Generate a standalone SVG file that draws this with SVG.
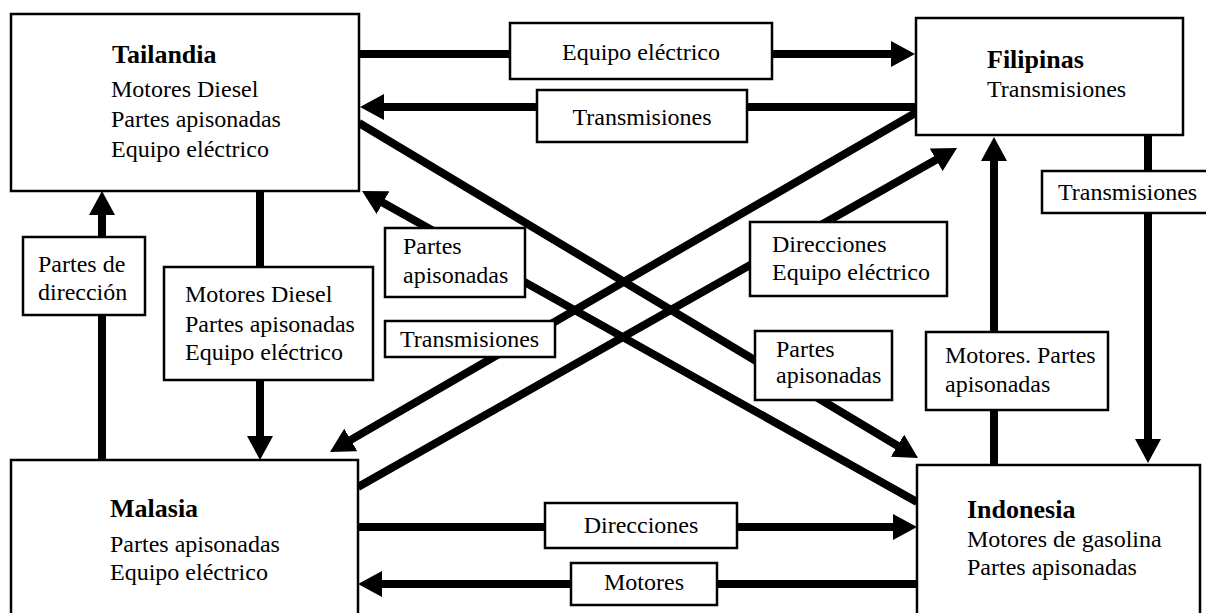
<svg xmlns="http://www.w3.org/2000/svg" width="1206" height="613" viewBox="0 0 1206 613">
<style>
.node{fill:#fff;stroke:#000;stroke-width:2.5}
.lbl{fill:#fff;stroke:#000;stroke-width:2.5}
.t{font-family:"Liberation Serif","Times New Roman",serif;font-size:24px;fill:#000}
.h{font-family:"Liberation Serif","Times New Roman",serif;font-size:26px;font-weight:bold;fill:#000}
.c{text-anchor:middle}
.ln{stroke:#000;stroke-width:8;fill:none;marker-end:url(#ah)}
</style>
<defs>
<marker id="ah" viewBox="0 -13 24 26" markerWidth="24" markerHeight="26" refX="1" refY="0" orient="auto" markerUnits="userSpaceOnUse">
<path d="M0,-13 L24,0 L0,13 Z" fill="#000"/>
</marker>
</defs>
<rect width="1206" height="613" fill="#fff"/>
<g id="connectors">
<line class="ln" x1="359" y1="54" x2="892" y2="54"/>
<line class="ln" x1="916" y1="107" x2="383" y2="107"/>
<line class="ln" x1="359" y1="123" x2="898.3" y2="446.2"/>
<line class="ln" x1="917" y1="502" x2="382.1" y2="202.2"/>
<line class="ln" x1="917" y1="112" x2="349.9" y2="440.4"/>
<line class="ln" x1="358" y1="487" x2="937" y2="159.3"/>
<line class="ln" x1="260" y1="191" x2="260" y2="437"/>
<line class="ln" x1="102" y1="460" x2="102" y2="214"/>
<line class="ln" x1="358" y1="527" x2="894" y2="527"/>
<line class="ln" x1="917" y1="584" x2="381" y2="584"/>
<line class="ln" x1="1148" y1="135" x2="1148" y2="440"/>
<line class="ln" x1="994" y1="465" x2="994" y2="160"/>
</g>
<g id="labels">
<g id="lbl-equipo-top"><rect class="lbl" x="510" y="23" width="262" height="56"/><text class="t c" x="641" y="60">Equipo eléctrico</text></g>
<g id="lbl-trans-top"><rect class="lbl" x="537" y="90" width="210" height="52"/><text class="t c" x="642" y="125">Transmisiones</text></g>
<g id="lbl-trans-right"><rect class="lbl" x="1042" y="171" width="170" height="42"/><text class="t" x="1058" y="200">Transmisiones</text></g>
<g id="lbl-partes-dir"><rect class="lbl" x="23" y="237" width="122" height="78"/><text class="t" x="38" y="272">Partes de</text><text class="t" x="38" y="300">dirección</text></g>
<g id="lbl-motores-diesel"><rect class="lbl" x="164" y="267" width="209" height="113"/><text class="t" x="185" y="302">Motores Diesel</text><text class="t" x="185" y="332">Partes apisonadas</text><text class="t" x="185" y="360">Equipo eléctrico</text></g>
<g id="lbl-partes-upper"><rect class="lbl" x="385" y="228" width="140" height="69"/><text class="t" x="403" y="254">Partes</text><text class="t" x="403" y="283">apisonadas</text></g>
<g id="lbl-trans-mid"><rect class="lbl" x="385" y="321" width="170" height="36"/><text class="t" x="400" y="347">Transmisiones</text></g>
<g id="lbl-direcciones-equipo"><rect class="lbl" x="750" y="222" width="197" height="74"/><text class="t" x="772" y="252">Direcciones</text><text class="t" x="772" y="280">Equipo eléctrico</text></g>
<g id="lbl-partes-lower"><rect class="lbl" x="755" y="331" width="137" height="69"/><text class="t" x="776" y="357">Partes</text><text class="t" x="776" y="383">apisonadas</text></g>
<g id="lbl-motores-partes"><rect class="lbl" x="926" y="332" width="182" height="78"/><text class="t" x="945" y="363">Motores. Partes</text><text class="t" x="945" y="392">apisonadas</text></g>
<g id="lbl-direcciones"><rect class="lbl" x="545" y="503" width="192" height="45"/><text class="t c" x="641" y="533">Direcciones</text></g>
<g id="lbl-motores"><rect class="lbl" x="571" y="563" width="146" height="42"/><text class="t c" x="644" y="590">Motores</text></g>
</g>
<g id="tailandia"><rect class="node" x="11" y="14" width="348" height="177"/><text class="h" x="112" y="63">Tailandia</text><text class="t" x="111" y="97">Motores Diesel</text><text class="t" x="111" y="127">Partes apisonadas</text><text class="t" x="111" y="157">Equipo eléctrico</text></g>
<g id="filipinas"><rect class="node" x="916" y="18" width="267" height="117"/><text class="h" x="987" y="68">Filipinas</text><text class="t" x="987" y="97">Transmisiones</text></g>
<g id="malasia"><rect class="node" x="11" y="460" width="347" height="170"/><text class="h" x="110" y="517">Malasia</text><text class="t" x="110" y="552">Partes apisonadas</text><text class="t" x="110" y="580">Equipo eléctrico</text></g>
<g id="indonesia"><rect class="node" x="917" y="465" width="283" height="170"/><text class="h" x="967" y="518">Indonesia</text><text class="t" x="967" y="547">Motores de gasolina</text><text class="t" x="967" y="575">Partes apisonadas</text></g>
</svg>
